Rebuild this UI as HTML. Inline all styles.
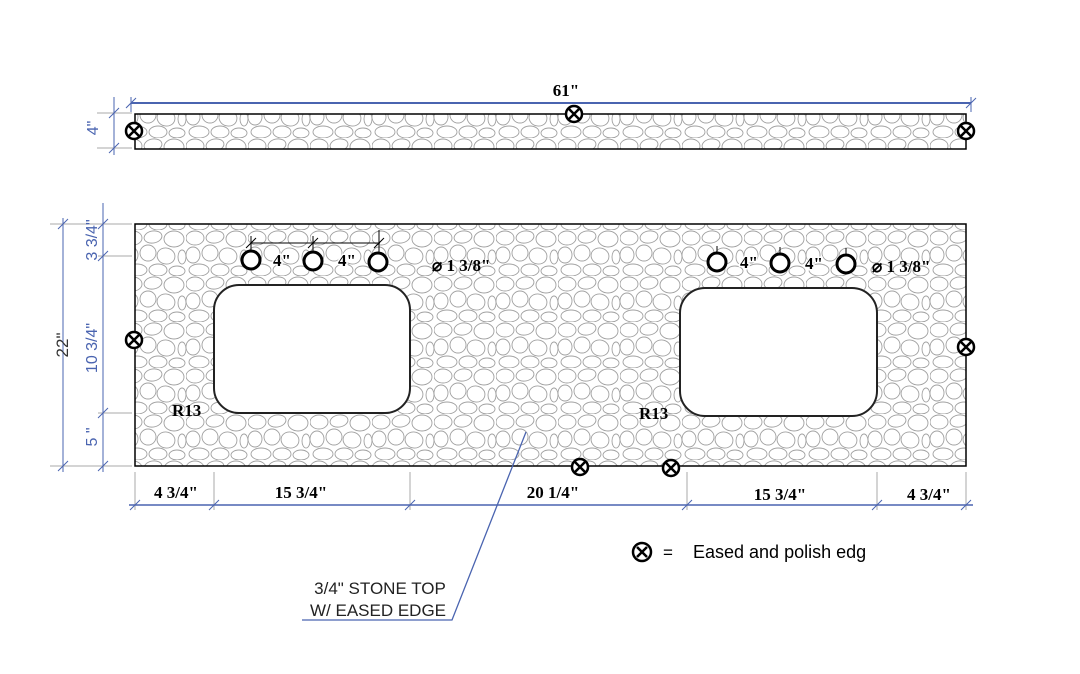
<!DOCTYPE html>
<html><head><meta charset="utf-8"><style>
html,body{margin:0;padding:0;background:#fff;}
svg{display:block;}
</style></head><body>
<svg width="1080" height="674" viewBox="0 0 1080 674" xmlns="http://www.w3.org/2000/svg">
<defs>
<pattern id="st" width="62" height="46" patternUnits="userSpaceOnUse">
<g fill="none" stroke="#a0a0a0" stroke-width="0.9">
<ellipse cx="9" cy="8" rx="9" ry="7"/>
<ellipse cx="29" cy="7" rx="9" ry="6" transform="rotate(-10 29 7)"/>
<ellipse cx="50" cy="9" rx="10" ry="8"/>
<ellipse cx="7" cy="25" rx="7" ry="8"/>
<ellipse cx="24" cy="23" rx="8" ry="8"/>
<ellipse cx="42" cy="26" rx="9" ry="8" transform="rotate(15 42 26)"/>
<ellipse cx="58" cy="27" rx="4" ry="7"/>
<ellipse cx="13" cy="40" rx="10" ry="6"/>
<ellipse cx="34" cy="40" rx="9" ry="6"/>
<ellipse cx="53" cy="41" rx="8" ry="5"/>
</g>
</pattern>
</defs>
<g font-family="Liberation Sans, sans-serif">
<rect x="135" y="114" width="831" height="35" fill="url(#st)" stroke="#000" stroke-width="1.5"/>
<line x1="131" y1="103" x2="971" y2="103" stroke="#4a64b0" stroke-width="2"/>
<line x1="131" y1="97" x2="131" y2="112" stroke="#4a64b0"/>
<line x1="971" y1="97" x2="971" y2="112" stroke="#4a64b0"/>
<line x1="126" y1="108" x2="136" y2="98" stroke="#4a64b0"/>
<line x1="966" y1="108" x2="976" y2="98" stroke="#4a64b0"/>
<text x="566" y="96" font-family="Liberation Serif, serif" font-weight="bold" font-size="17" text-anchor="middle">61"</text>
<line x1="97" y1="113" x2="132" y2="113" stroke="#aaa"/>
<line x1="97" y1="148" x2="132" y2="148" stroke="#aaa"/>
<line x1="114" y1="97" x2="114" y2="155" stroke="#4a64b0"/>
<line x1="109" y1="118" x2="119" y2="108" stroke="#4a64b0"/>
<line x1="109" y1="153" x2="119" y2="143" stroke="#4a64b0"/>
<text transform="translate(98,128) rotate(-90)" font-size="16" fill="#4a64b0" text-anchor="middle">4"</text>

<rect x="135" y="224" width="831" height="242" fill="url(#st)" stroke="#000" stroke-width="1.5"/>
<rect x="214" y="285" width="196" height="128" rx="25" fill="#fff" stroke="#222" stroke-width="2"/>
<rect x="680" y="288" width="197" height="128" rx="25" fill="#fff" stroke="#222" stroke-width="2"/>
<g fill="#fff" stroke="#000" stroke-width="3">
<circle cx="251" cy="260" r="9"/><circle cx="313" cy="261" r="9"/><circle cx="378" cy="262" r="9"/>
<circle cx="717" cy="262" r="9"/><circle cx="780" cy="263" r="9"/><circle cx="846" cy="264" r="9"/>
</g>
<g stroke="#000" stroke-width="1">
<line x1="251" y1="243" x2="380" y2="243"/>
<line x1="251" y1="236" x2="251" y2="251"/><line x1="313" y1="236" x2="313" y2="252"/><line x1="379" y1="230" x2="379" y2="253"/>
<line x1="246" y1="248" x2="256" y2="238"/><line x1="308" y1="248" x2="318" y2="238"/><line x1="374" y1="248" x2="384" y2="238"/>
<line x1="717" y1="246" x2="717" y2="253"/><line x1="780" y1="247" x2="780" y2="254"/><line x1="846" y1="248" x2="846" y2="255"/>
</g>
<g font-family="Liberation Serif, serif" font-weight="bold" font-size="17">
<text x="273" y="266" fill="#fff" stroke="#fff" stroke-width="3">4"</text><text x="273" y="266">4"</text>
<text x="338" y="266" fill="#fff" stroke="#fff" stroke-width="3">4"</text><text x="338" y="266">4"</text>
<text x="740" y="268" fill="#fff" stroke="#fff" stroke-width="3">4"</text><text x="740" y="268">4"</text>
<text x="805" y="269" fill="#fff" stroke="#fff" stroke-width="3">4"</text><text x="805" y="269">4"</text>
<text x="432" y="271">⌀ 1 3/8"</text><text x="872" y="272">⌀ 1 3/8"</text>
<text x="172" y="416">R13</text><text x="639" y="419">R13</text>
</g>
<g stroke="#aaa"><line x1="50" y1="224" x2="132" y2="224"/><line x1="98" y1="256" x2="132" y2="256"/><line x1="98" y1="413" x2="132" y2="413"/><line x1="50" y1="466" x2="132" y2="466"/></g>
<g stroke="#4a64b0">
<line x1="63" y1="218" x2="63" y2="472"/><line x1="103" y1="203" x2="103" y2="472"/>
<line x1="58" y1="229" x2="68" y2="219"/><line x1="58" y1="471" x2="68" y2="461"/>
<line x1="98" y1="229" x2="108" y2="219"/><line x1="98" y1="261" x2="108" y2="251"/><line x1="98" y1="418" x2="108" y2="408"/><line x1="98" y1="471" x2="108" y2="461"/>
</g>
<text transform="translate(68,345) rotate(-90)" font-size="17" fill="#333" text-anchor="middle">22"</text>
<g fill="#4a64b0" font-size="16" text-anchor="middle">
<text transform="translate(97,240) rotate(-90)">3 3/4"</text>
<text transform="translate(97,348) rotate(-90)">10 3/4"</text>
<text transform="translate(97,437) rotate(-90)">5 "</text>
</g>
<g stroke="#aaa"><line x1="135" y1="472" x2="135" y2="510"/><line x1="214" y1="472" x2="214" y2="510"/><line x1="410" y1="472" x2="410" y2="510"/><line x1="687" y1="472" x2="687" y2="510"/><line x1="877" y1="472" x2="877" y2="510"/><line x1="966" y1="472" x2="966" y2="510"/></g>
<line x1="129" y1="505" x2="973" y2="505" stroke="#4a64b0" stroke-width="1.5"/>
<g stroke="#4a64b0"><line x1="130" y1="510" x2="140" y2="500"/><line x1="209" y1="510" x2="219" y2="500"/><line x1="405" y1="510" x2="415" y2="500"/><line x1="682" y1="510" x2="692" y2="500"/><line x1="872" y1="510" x2="882" y2="500"/><line x1="961" y1="510" x2="971" y2="500"/></g>
<g font-family="Liberation Serif, serif" font-weight="bold" font-size="17" text-anchor="middle">
<text x="176" y="498">4 3/4"</text><text x="301" y="498">15 3/4"</text><text x="553" y="498">20 1/4"</text><text x="780" y="500">15 3/4"</text><text x="929" y="500">4 3/4"</text>
</g>
<g fill="#fff" stroke="#000" stroke-width="2.5">
<g transform="translate(134,131)"><circle r="8"/><path d="M-5,-5L5,5M-5,5L5,-5"/></g>
<g transform="translate(574,114)"><circle r="8"/><path d="M-5,-5L5,5M-5,5L5,-5"/></g>
<g transform="translate(966,131)"><circle r="8"/><path d="M-5,-5L5,5M-5,5L5,-5"/></g>
<g transform="translate(134,340)"><circle r="8"/><path d="M-5,-5L5,5M-5,5L5,-5"/></g>
<g transform="translate(966,347)"><circle r="8"/><path d="M-5,-5L5,5M-5,5L5,-5"/></g>
<g transform="translate(580,467)"><circle r="8"/><path d="M-5,-5L5,5M-5,5L5,-5"/></g>
<g transform="translate(671,468)"><circle r="8"/><path d="M-5,-5L5,5M-5,5L5,-5"/></g>
<g transform="translate(642,552)"><circle r="9"/><path d="M-5,-5L5,5M-5,5L5,-5"/></g>
</g>
<text x="663" y="558" font-size="17">=</text>
<text x="693" y="558" font-size="18">Eased and polish edg</text>
<polyline points="526,432 452,620 302,620" fill="none" stroke="#4a64b0" stroke-width="1.3"/>
<text x="380" y="594" font-size="17" text-anchor="middle" fill="#222">3/4" STONE TOP</text>
<text x="378" y="616" font-size="17" text-anchor="middle" fill="#222">W/ EASED EDGE</text>
</g>
</svg>
</body></html>
